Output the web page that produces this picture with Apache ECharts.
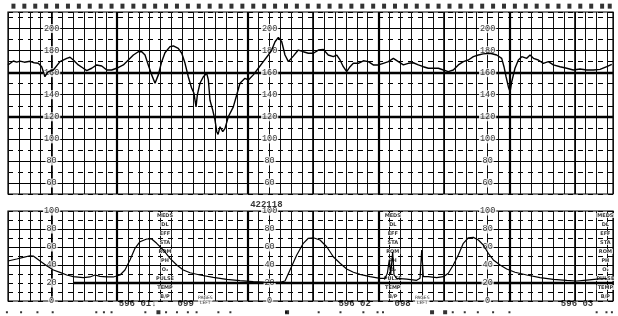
<!DOCTYPE html>
<html><head><meta charset="utf-8">
<style>html,body{margin:0;padding:0;background:#fff}#c{width:618px;height:316px}</style>
<script src="https://cdn.jsdelivr.net/npm/echarts@6/dist/echarts.min.js"></script>
</head><body><div id="c"></div>
<script>
// time axis in seconds; fetal heart rate (bpm) and uterine activity traces
const fhrTrace = [[0,167],[4.9,170.6],[8,169.5],[11,170.5],[15,169.5],[20.2,170.3],[24,169],[27.8,168.5],[30.9,165.4],[33.9,156.3],[35.5,159],[37,160.9],[41.6,162.4],[47.7,170],[53.9,173],[56.9,174],[59.9,171.5],[64.5,167],[69.1,164],[72.2,161.8],[76.8,164],[81.4,167],[86,166],[90.6,162.4],[95.1,162.4],[99.7,164],[105.8,167],[110.4,171.5],[115,176],[119.5,179],[122.7,179],[125.7,176],[128.7,167],[131.8,158],[134.9,150.4],[137.9,158],[141,170],[144,178],[148.6,183.6],[151.7,184.2],[156.2,182],[159.4,177.6],[162.4,168.5],[165.4,156.3],[168.5,145.8],[170.6,141.3],[172.5,129],[173.7,139.8],[176.1,150.4],[179.2,156.3],[182.3,159.4],[183.8,153.4],[185.3,135],[187.8,126],[189.9,117],[191.5,106.5],[192.7,104],[194.5,111],[197,106.5],[199.1,109.5],[202.1,120],[206.7,129],[209.8,139.8],[212.8,150.4],[217.4,154.9],[220.5,153.4],[225,158],[229.6,164],[234.2,170],[238.8,176],[241.9,180.5],[245,188],[248,192],[251.1,188],[254.1,176],[257.2,170],[261.7,175],[266.3,180.5],[270.9,179],[275.5,177.6],[280.1,177.6],[284.7,180.5],[289.3,181],[293.8,176],[298.4,174.5],[301.6,176],[304.6,171.5],[307.6,165.4],[310.7,161],[313.8,165.4],[316.8,168.5],[321.4,168.5],[326,170.8],[330.6,170],[335.1,167],[339.7,167],[344.3,168.5],[348.9,170],[353.5,173],[358.1,170],[362.7,167],[367.2,168.5],[371.8,169],[376.4,167],[381,165.4],[385.6,164],[390.2,164],[394.8,164],[399.4,162.4],[403.9,161],[408.5,162.4],[413.1,167],[417.7,170],[422.3,171.5],[426.9,174.5],[431.5,176],[436,177],[442.2,177.6],[448.3,176],[452.9,173],[455,165.4],[456.9,156.3],[459,147.3],[460.6,142.7],[462.1,151.8],[465.1,164],[468.2,171.5],[471.3,174.5],[475.9,173],[478.9,176],[482,173],[486.5,171.5],[491.1,168.5],[495.7,170],[500.3,167],[506.4,165.4],[512.6,164],[518.6,162.4],[524.8,163.3],[530.9,162.4],[537,162.4],[543.1,163],[549.3,165.4],[553.9,167.6]];
const uaTrace = [[0,44.4],[8,46.7],[14,48.5],[20.2,50.3],[23.2,50],[29.4,44.4],[35.5,39.2],[41.6,34.4],[47.7,31.8],[53.9,28.9],[59.9,27],[69.1,25.9],[75.2,26.7],[79.8,28.9],[84.4,27.4],[90.6,26.7],[96.6,26.7],[102.8,28.9],[107.3,34.4],[111.9,45.6],[116.5,58.5],[121.1,65.9],[127.2,68.9],[131.8,68.9],[136.4,64.1],[142.5,56.7],[148.6,47.4],[154.8,40],[160.8,34.4],[167,31.4],[176.1,28.9],[188.3,26.3],[200.6,24.1],[212.8,22.6],[225,21.5],[237.3,20.7],[249.5,20.7],[254.1,22.2],[258.7,34.4],[264.9,51.1],[270.9,64.1],[275.5,69.7],[280.1,70.3],[286.2,67.8],[292.4,60.3],[298.4,49.2],[304.6,41.9],[310.7,35.6],[316.8,31.9],[322.9,29.6],[332.1,27],[341.3,25.2],[345.9,25.2],[348,30.8],[349.8,45.6],[351.1,30],[352.9,54.8],[354.1,28.9],[356.6,25.2],[365.8,24.4],[374.9,23],[378,25.2],[379.5,56.7],[381,27],[385.6,27],[393.3,25.9],[399.4,27],[403.9,30.8],[408.5,40],[413.1,51.1],[417.7,64.1],[422.3,70.3],[426.9,70.7],[431.5,67.8],[436,62.2],[440.6,53],[445.2,45.6],[451.4,40],[457.5,35.6],[465.1,31.9],[475.9,28.9],[488.1,25.9],[500.3,24.1],[512.6,23],[521.7,22.2],[530.9,23.3],[540.1,24.4],[549.3,25]];

const fhrTickLabels = [200,180,160,140,120,100,80,60];
const uaTickLabels = [100,80,60,40,20,0];
const labelColumns = [40,240,440];
const fhrMajor = [60,80,100,140,180,200];
const fhrThick = [120,160];
const uaMajor = [40,60,80];
const vThick = [100,220,340,460];
const vMedium = [40,280,400,520];
const infoRows = ['MEDS','DL','EFF','STA','ROM','PH','O₂','PULSE','TEMP','B/P'];
const infoRowValues = [95,85,75,65,55,45,35,25,15,5];
const infoColumns = [144,353,548];
const topMarks = [5,15,25,35,45,55,65,75,85,95,105,115,125,135,145,155,165,175,185,195,205,215,225,235,245,255,265,275,285,295,305,315,325,335,345,355,365,375,385,395,405,415,425,435,445,455,465,475,485,495,505,515,525,535,545,552];
const bottomDots = [-1,12,27,41,81,88,95,126,145,155,165,173,193,204,255,285,305,326,339,344,408,419,431,445,460,540,549,554];
const bottomBigDots = [138,256,389,401];
const stripTexts = [
  {t:119, v:-3, text:'596 01↓'},
  {t:163, v:-3, text:'099'},
  {t:318, v:-3, text:'596 02'},
  {t:362, v:-3, text:'098'},
  {t:522, v:-3, text:'596 03'}
];
const pagesLeft = [181, 380];
const stripId = {t:237, v:106.5, text:'422118'};

const FONT = 'Liberation Mono';
const chart = echarts.init(document.getElementById('c'), null, {renderer:'canvas'});

function xAx(i){return {type:'value',gridIndex:i,min:0,max:555,interval:10,
  axisLine:{show:false},axisTick:{show:false},axisLabel:{show:false},
  splitLine:{show:true,lineStyle:{color:'#111',width:1}}};}

const hLine = (v,w,type)=>({yAxis:v,lineStyle:{width:w,type:type||'solid',color:'#000'}});
const vLine = (v,w)=>({xAxis:v,lineStyle:{width:w,type:'solid',color:'#000'}});

const tickLabelData = (vals)=>{const d=[];labelColumns.forEach(c=>vals.forEach(v=>d.push([c,v])));return d;};
const infoData = [];
infoColumns.forEach(c=>infoRows.forEach((r,i)=>infoData.push({value:[c,infoRowValues[i]],name:r})));

const mlBase = {symbol:['none','none'],silent:true,animation:false,label:{show:false}};

chart.setOption({
  animation:false,
  backgroundColor:'#fff',
  grid:[
    {left:8,right:5,top:12,height:182,show:true,borderColor:'#000',borderWidth:1.2,backgroundColor:'transparent'},
    {left:8,right:5,top:211,height:90,show:true,borderColor:'#000',borderWidth:1.2,backgroundColor:'transparent'}
  ],
  xAxis:[xAx(0),xAx(1)],
  yAxis:[
    {type:'value',gridIndex:0,min:50,max:215,interval:10,axisLine:{show:false},axisTick:{show:false},axisLabel:{show:false},
     splitLine:{show:true,lineStyle:{color:'#000',width:1,type:[5,5]}}},
    {type:'value',gridIndex:1,min:0,max:100,interval:10,axisLine:{show:false},axisTick:{show:false},axisLabel:{show:false},
     splitLine:{show:true,lineStyle:{color:'#000',width:1,type:[5,5]}}}
  ],
  series:[
    {type:'line',xAxisIndex:0,yAxisIndex:0,data:[],z:2,
     markLine:Object.assign({},mlBase,{data:[
       ...fhrMajor.map(v=>hLine(v,1)),
       ...fhrThick.map(v=>hLine(v,2.4)),
       ...vThick.map(v=>vLine(v,2.2)),
       ...vMedium.map(v=>vLine(v,1.6))
     ]})},
    {type:'line',xAxisIndex:1,yAxisIndex:1,data:[],z:2,
     markLine:Object.assign({},mlBase,{data:[
       ...uaMajor.map(v=>hLine(v,1)),
       [{coord:[60,20],lineStyle:{width:2.4,color:'#000',type:'solid'}},{coord:[555,20]}],
       ...vThick.map(v=>vLine(v,2.2)),
       ...vMedium.map(v=>vLine(v,1.6))
     ]})},
    {type:'scatter',xAxisIndex:0,yAxisIndex:0,data:tickLabelData(fhrTickLabels),symbolSize:0,z:5,silent:true,
     label:{show:true,position:'inside',formatter:p=>String(p.value[1]),fontFamily:FONT,fontSize:8.5,color:'#000',backgroundColor:'#fff',padding:[0,1]}},
    {type:'scatter',xAxisIndex:1,yAxisIndex:1,data:tickLabelData(uaTickLabels),symbolSize:0,z:5,silent:true,clip:false,
     label:{show:true,position:'inside',formatter:p=>String(p.value[1]),fontFamily:FONT,fontSize:8.5,color:'#000',backgroundColor:'#fff',padding:[0,1]}},
    {type:'scatter',xAxisIndex:1,yAxisIndex:1,data:infoData,symbolSize:0,z:5,silent:true,clip:false,
     label:{show:true,position:'inside',formatter:p=>p.name,fontFamily:'DejaVu Sans',fontSize:5,fontWeight:'bold',color:'#000',backgroundColor:'#fff',padding:[0,1]}},
    {type:'line',xAxisIndex:0,yAxisIndex:0,data:fhrTrace,showSymbol:false,z:8,silent:true,
     lineStyle:{color:'#000',width:1.4}},
    {type:'line',xAxisIndex:1,yAxisIndex:1,data:uaTrace,showSymbol:false,z:8,silent:true,
     lineStyle:{color:'#000',width:1.2}},
    {type:'scatter',xAxisIndex:0,yAxisIndex:0,data:topMarks.map(t=>[t,220.3]),symbol:'rect',symbolSize:[4,5],clip:false,z:6,silent:true,
     itemStyle:{color:'#000'}},
    {type:'scatter',xAxisIndex:1,yAxisIndex:1,data:bottomDots.map(t=>[t,-12.5]),symbol:'rect',symbolSize:[2,2],clip:false,z:6,silent:true,
     itemStyle:{color:'#000'}},
    {type:'scatter',xAxisIndex:1,yAxisIndex:1,data:bottomBigDots.map(t=>[t,-12.5]),symbol:'rect',symbolSize:[4,4],clip:false,z:6,silent:true,
     itemStyle:{color:'#000'}},
    {type:'scatter',xAxisIndex:1,yAxisIndex:1,data:stripTexts.map(s=>({value:[s.t,s.v],name:s.text})).concat([{value:[stripId.t,stripId.v],name:stripId.text}]),
     symbolSize:0,clip:false,z:7,silent:true,
     label:{show:true,position:'inside',formatter:p=>p.name,fontFamily:FONT,fontSize:9,fontWeight:'bold',color:'#000'}},
    {type:'scatter',xAxisIndex:1,yAxisIndex:1,data:pagesLeft.map(t=>({value:[t,1],name:'PAGES\nLEFT'})),
     symbolSize:0,clip:false,z:7,silent:true,
     label:{show:true,position:'inside',formatter:p=>p.name,fontFamily:'DejaVu Sans',fontSize:4.5,lineHeight:5,color:'#000',backgroundColor:'#fff'}}
  ]
});
</script></body></html>
